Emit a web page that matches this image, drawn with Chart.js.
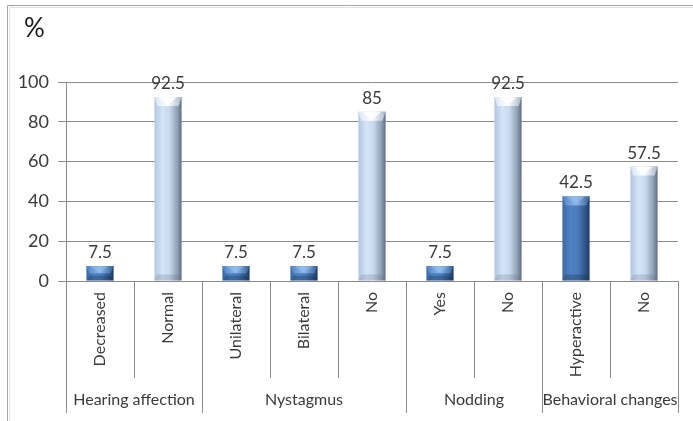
<!DOCTYPE html>
<html>
<head>
<meta charset="utf-8">
<script src="https://cdn.jsdelivr.net/npm/chart.js@4/dist/chart.umd.min.js"></script>
<style>
  html, body { margin: 0; padding: 0; background: #ffffff; }
  #wrap { width: 693px; height: 421px; position: relative; }
</style>
</head>
<body>
<div id="wrap"><canvas id="c" width="693" height="421"></canvas></div>
<script>
// Answer categories, in display order
const categories = ['Decreased', 'Normal', 'Unilateral', 'Bilateral', 'No', 'Yes', 'No', 'Hyperactive', 'No'];
// Percentage of cases for each answer
const percentages = [7.5, 92.5, 7.5, 7.5, 85, 7.5, 92.5, 42.5, 57.5];
// Symptom groups and how many answers each one spans
const groupNames = ['Hearing affection', 'Nystagmus', 'Nodding', 'Behavioral changes'];
const groupSizes = [2, 3, 2, 2];
// Answers that report an abnormal finding (drawn in the darker blue)
const abnormalAnswers = [true, false, true, true, false, true, false, true, false];
// Value axis ticks
const yTicks = [0, 20, 40, 60, 80, 100];

const TEXT = '#3a3a3a';
const GRID = '#8a8a8a';
const FONT = 'Lato, "Open Sans", sans-serif';
const BAR_FRACTION = 0.4;

function barGradient(ctx, x0, x1, dark) {
  const g = ctx.createLinearGradient(x0, 0, x1, 0);
  if (dark) {
    g.addColorStop(0, '#3d6aa5');
    g.addColorStop(0.3, '#4f82c2');
    g.addColorStop(0.55, '#4a7cba');
    g.addColorStop(0.85, '#2e5487');
    g.addColorStop(1, '#1e3a60');
  } else {
    g.addColorStop(0, '#b3c7df');
    g.addColorStop(0.3, '#d5e4f6');
    g.addColorStop(0.55, '#c9d9ee');
    g.addColorStop(0.85, '#8d9db2');
    g.addColorStop(1, '#5f6e82');
  }
  return g;
}

const decor = {
  id: 'decor',
  beforeDraw(chart) {
    const c = chart.ctx;
    c.save();
    // frame around the figure
    c.strokeStyle = '#a6a6a6';
    c.lineWidth = 1;
    c.beginPath();
    c.moveTo(7.5, 421);
    c.lineTo(7.5, 5.5);
    c.lineTo(693, 5.5);
    c.stroke();
    c.strokeStyle = '#e2e2e2';
    c.beginPath();
    c.moveTo(9.5, 421);
    c.lineTo(9.5, 7.5);
    c.lineTo(693, 7.5);
    c.stroke();
    // unit label
    c.fillStyle = '#1a1a1a';
    c.font = '26px ' + FONT;
    c.textBaseline = 'alphabetic';
    c.textAlign = 'left';
    c.fillText('%', 24, 37);
    c.restore();
  },
  afterDatasetsDraw(chart) {
    const c = chart.ctx;
    const meta = chart.getDatasetMeta(0);
    c.save();
    meta.data.forEach((el, i) => {
      const dark = abnormalAnswers[i];
      const w = el.width;
      const x0 = el.x - w / 2, x1 = el.x + w / 2;
      const top = el.y, base = el.base;
      const d = Math.min(9, (base - top) / 2);
      // top bevel
      c.beginPath();
      c.moveTo(x0, top);
      c.lineTo(x1, top);
      c.lineTo(x1 - 3, top + d);
      c.lineTo(x0 + 3, top + d);
      c.closePath();
      const tg = c.createLinearGradient(x0, 0, x1, 0);
      if (dark) {
        tg.addColorStop(0, '#4f82c2');
        tg.addColorStop(0.5, '#8fb8ea');
        tg.addColorStop(1, '#35609a');
      } else {
        tg.addColorStop(0, '#dbe7f6');
        tg.addColorStop(0.5, '#ffffff');
        tg.addColorStop(1, '#a9b8cb');
      }
      c.fillStyle = tg;
      c.fill();
      // V highlight on the cap
      c.beginPath();
      c.moveTo(x0 + 4, top + 0.5);
      c.lineTo(x1 - 5, top + 0.5);
      c.lineTo(el.x - 0.5, top + d * 0.9);
      c.closePath();
      c.fillStyle = dark ? 'rgba(150,190,240,0.55)' : 'rgba(255,255,255,0.95)';
      c.fill();
      // bottom bevel
      const bd = Math.min(6, (base - top) / 3);
      c.beginPath();
      c.moveTo(x0 + 3, base - bd);
      c.lineTo(x1 - 3, base - bd);
      c.lineTo(x1, base);
      c.lineTo(x0, base);
      c.closePath();
      c.fillStyle = dark ? 'rgba(20,45,80,0.3)' : 'rgba(90,105,125,0.22)';
      c.fill();
      // value label
      c.fillStyle = TEXT;
      c.font = '17px ' + FONT;
      c.textAlign = 'center';
      c.textBaseline = 'alphabetic';
      c.fillText(String(percentages[i]), el.x, top - 8);
    });
    c.restore();
  },
  afterDraw(chart) {
    const c = chart.ctx;
    const xs = chart.scales.x;
    const base = chart.chartArea.bottom;
    const n = categories.length;
    const step = xs.getPixelForValue(1) - xs.getPixelForValue(0);
    const edge = i => xs.getPixelForValue(i) - step / 2;
    const groupEdges = [0];
    groupSizes.forEach(s => groupEdges.push(groupEdges[groupEdges.length - 1] + s));
    c.save();
    c.strokeStyle = GRID;
    c.lineWidth = 1;
    for (let i = 0; i <= n; i++) {
      const x = Math.round(edge(i)) + 0.5;
      const isGroup = groupEdges.includes(i);
      c.beginPath();
      c.moveTo(x, base);
      c.lineTo(x, base + (isGroup ? 132 : 97));
      c.stroke();
    }
    c.fillStyle = TEXT;
    c.font = '16px ' + FONT;
    c.textAlign = 'center';
    c.textBaseline = 'middle';
    groupNames.forEach((name, g) => {
      const mid = (edge(groupEdges[g]) + edge(groupEdges[g + 1])) / 2;
      c.fillText(name, mid, base + 119);
    });
    c.restore();
  }
};

new Chart(document.getElementById('c'), {
  type: 'bar',
  data: {
    labels: categories,
    datasets: [{
      data: percentages,
      categoryPercentage: 1,
      barPercentage: BAR_FRACTION,
      borderWidth: 0,
      backgroundColor: (ctx) => {
        const i = ctx.dataIndex;
        const dark = abnormalAnswers[i];
        const plain = dark ? '#4a7cba' : '#c9d9ee';
        const xs = ctx.chart.scales && ctx.chart.scales.x;
        if (!xs || i === undefined) return plain;
        const step = xs.width / categories.length;
        const cx = xs.getPixelForValue(i);
        const half = step * BAR_FRACTION / 2;
        if (!Number.isFinite(cx) || !Number.isFinite(half) || half <= 0) return plain;
        return barGradient(ctx.chart.ctx, cx - half, cx + half, dark);
      }
    }]
  },
  options: {
    responsive: false,
    animation: false,
    layout: { padding: { left: 0, right: 15, top: 82, bottom: 0 } },
    plugins: {
      legend: { display: false },
      tooltip: { enabled: false },
      title: { display: false }
    },
    scales: {
      x: {
        offset: true,
        grid: { display: false, drawTicks: false },
        border: { display: false },
        ticks: {
          minRotation: 90,
          maxRotation: 90,
          autoSkip: false,
          padding: 11,
          color: TEXT,
          font: { family: FONT, size: 16 }
        },
        afterFit(scale) { scale.height = 140; }
      },
      y: {
        min: 0,
        max: 100,
        afterBuildTicks(scale) { scale.ticks = yTicks.map(v => ({ value: v })); },
        grid: { color: GRID, lineWidth: 1, tickLength: 8, drawTicks: true },
        border: { display: true, color: GRID },
        ticks: {
          padding: 9,
          color: TEXT,
          font: { family: FONT, size: 18 }
        },
        afterFit(scale) { scale.width = 66; }
      }
    }
  },
  plugins: [decor]
});
</script>
</body>
</html>
